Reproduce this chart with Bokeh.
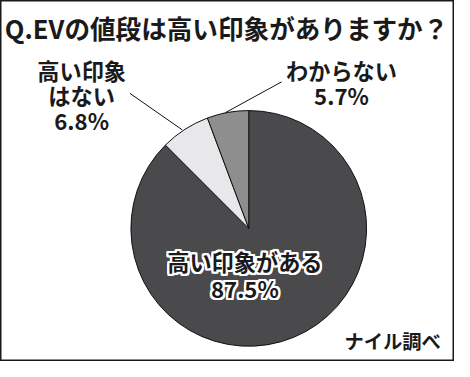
import math
from bokeh.plotting import figure
from bokeh.models import Range1d, ColumnDataSource
from bokeh.core.properties import value
from bokeh.embed import file_html
from bokeh.resources import INLINE

# ---- data ----
categories = ["高い印象がある", "高い印象はない", "わからない"]
shares = [87.5, 6.8, 5.7]
label_texts = ["高い印象がある\n87.5%", "高い印象\nはない\n6.8%", "わからない\n5.7%"]
colors = ["#4a494c", "#e8e8ea", "#8e8e8f"]
title_text = "Q.EVの値段は高い印象がありますか？"
source_text = "ナイル調べ"

# ---- layout (reference pixel space 470x377) ----
RW, RH = 470, 377
W, H = 454, 361
s = W / RW
FONT = "Noto Sans CJK JP"

def Y(v):
    return RH - v

p = figure(width=W, height=H, x_range=Range1d(0, RW), y_range=Range1d(0, RH),
           output_backend="svg", toolbar_location=None, min_border=0)
p.axis.visible = False
p.grid.visible = False
p.background_fill_color = "white"
p.border_fill_color = "white"
p.outline_line_color = "#1a1a1a"
p.outline_line_width = 2

cx, cy, r = 257, 238, 122
total = sum(shares)
starts, ends = [], []
cum = 0.0
for v in shares:
    starts.append(math.pi / 2 - 2 * math.pi * cum / total)
    cum += v
    ends.append(math.pi / 2 - 2 * math.pi * cum / total)

src = ColumnDataSource(dict(cat=categories, val=shares, start=starts, end=ends, color=colors))
p.wedge(x=cx, y=Y(cy), radius=r, start_angle="start", end_angle="end",
        direction="clock", fill_color="color", line_color="#111111", line_width=1,
        source=src)

# leader lines
p.line([134, 188], [Y(97), Y(135)], line_color="#111111", line_width=1)
p.line([291, 233], [Y(85), Y(117)], line_color="#111111", line_width=1)

fs_lab = f"{23 * s:.1f}px"

def multiline(x, y_top, text, size, color="#1a1a1a", spacing=26, xo=0, yo=0):
    lines = text.split("\n")
    p.text(x=[x] * len(lines), y=[Y(y_top + i * spacing) for i in range(len(lines))],
           text=lines, text_font=value(FONT), text_font_style="bold",
           text_font_size=size, text_color=color, text_align="center",
           text_baseline="middle", x_offset=xo, y_offset=yo)

# outer labels
multiline(84, 73, label_texts[1], fs_lab)
multiline(353, 73, label_texts[2], fs_lab)

# center label: black text with white halo
for dx in (-2, -1, 0, 1, 2):
    for dy in (-2, -1, 0, 1, 2):
        if dx == 0 and dy == 0:
            continue
        multiline(253, 272, label_texts[0], fs_lab, color="white", spacing=28, xo=dx, yo=dy)
multiline(253, 272, label_texts[0], fs_lab, color="#1a1a1a", spacing=28)

# title
p.text(x=[234], y=[Y(28)], text=[title_text], text_font=value(FONT), text_font_style="bold",
       text_font_size=f"{26.5 * s:.1f}px", text_color="#1a1a1a", text_align="center",
       text_baseline="middle")

# source note
p.text(x=[406], y=[Y(356)], text=[source_text], text_font=value(FONT), text_font_style="bold",
       text_font_size=f"{20 * s:.1f}px", text_color="#1a1a1a", text_align="center",
       text_baseline="middle")

open("out.html", "w").write(file_html(p, INLINE))
